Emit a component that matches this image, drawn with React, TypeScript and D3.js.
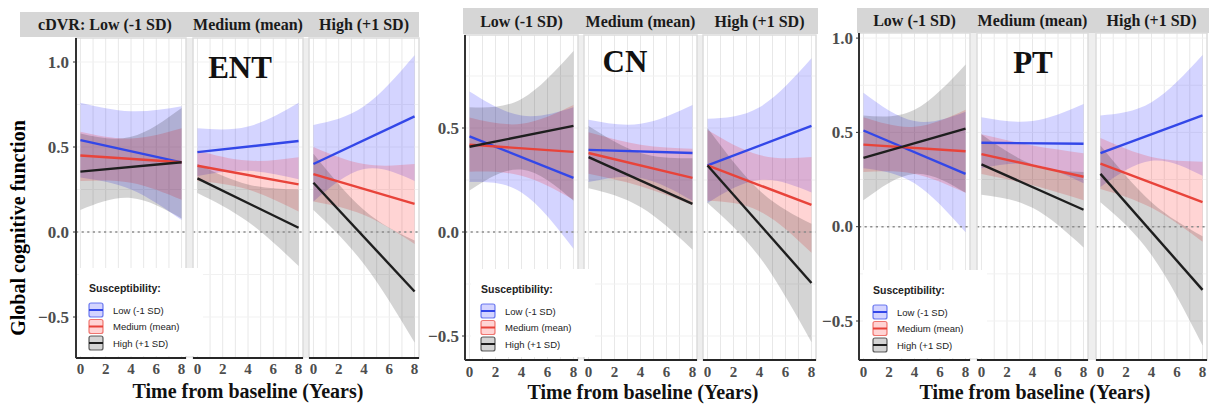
import React, { useEffect, useRef } from "react";
import * as d3 from "d3";

const panelNames = ["ENT", "CN", "PT"];
const cdvrLevels = ["Low (-1 SD)", "Medium (mean)", "High (+1 SD)"];
const suscLevels = ["Low (-1 SD)", "Medium (mean)", "High (+1 SD)"];
const lineYears = [0, 8];
const bandYears = [0, 4, 8];
const xTicks = [0, 2, 4, 6, 8];
const yTicksENT = [-0.5, 0, 0.5, 1.0];
const yTicksCN = [-0.5, 0, 0.5];
const yTicksPT = [-0.5, 0, 0.5, 1.0];

// fitted lines: [cDVR facet][susceptibility] -> [value at year 0, value at year 8]
const entLines = [
  [[0.54, 0.41], [0.45, 0.41], [0.355, 0.41]],
  [[0.47, 0.535], [0.39, 0.28], [0.315, 0.025]],
  [[0.4, 0.68], [0.34, 0.165], [0.29, -0.35]],
];
// confidence bands: [facet][susceptibility] -> values at years 0, 4, 8
const entLower = [
  [[0.32, 0.25, 0.07], [0.3, 0.29, 0.19], [0.13, 0.2, 0.08]],
  [[0.33, 0.36, 0.31], [0.3, 0.25, 0.12], [0.23, 0.06, -0.2]],
  [[0.18, 0.37, 0.3], [0.18, 0.1, -0.07], [0.13, -0.19, -0.65]],
];
const entUpper = [
  [[0.76, 0.71, 0.74], [0.59, 0.55, 0.61], [0.58, 0.56, 0.73]],
  [[0.61, 0.62, 0.76], [0.48, 0.42, 0.44], [0.4, 0.28, 0.25]],
  [[0.63, 0.74, 1.04], [0.5, 0.4, 0.4], [0.46, 0.13, -0.05]],
];

const cnLines = [
  [[0.46, 0.26], [0.42, 0.385], [0.41, 0.51]],
  [[0.395, 0.38], [0.38, 0.26], [0.36, 0.135]],
  [[0.32, 0.51], [0.32, 0.13], [0.32, -0.245]],
];
const cnLower = [
  [[0.24, 0.19, -0.08], [0.29, 0.27, 0.155], [0.2, 0.3, 0.15]],
  [[0.24, 0.26, 0.15], [0.28, 0.22, 0.13], [0.21, 0.12, -0.085]],
  [[0.14, 0.25, 0.19], [0.15, 0.1, -0.1], [0.14, -0.12, -0.53]],
];
const cnUpper = [
  [[0.675, 0.56, 0.6], [0.55, 0.52, 0.61], [0.6, 0.64, 0.87]],
  [[0.54, 0.52, 0.61], [0.48, 0.42, 0.4], [0.51, 0.38, 0.355]],
  [[0.545, 0.6, 0.835], [0.49, 0.37, 0.36], [0.5, 0.2, 0.04]],
];

const ptLines = [
  [[0.51, 0.28], [0.435, 0.4], [0.365, 0.52]],
  [[0.445, 0.44], [0.385, 0.265], [0.33, 0.09]],
  [[0.39, 0.59], [0.335, 0.13], [0.28, -0.335]],
];
const ptLower = [
  [[0.31, 0.23, -0.03], [0.29, 0.28, 0.18], [0.14, 0.28, 0.18]],
  [[0.31, 0.33, 0.23], [0.28, 0.22, 0.14], [0.17, 0.1, -0.11]],
  [[0.21, 0.35, 0.27], [0.2, 0.1, -0.08], [0.13, -0.15, -0.63]],
];
const ptUpper = [
  [[0.71, 0.56, 0.61], [0.58, 0.53, 0.62], [0.59, 0.62, 0.86]],
  [[0.58, 0.56, 0.65], [0.49, 0.43, 0.39], [0.49, 0.33, 0.29]],
  [[0.59, 0.66, 0.91], [0.47, 0.37, 0.345], [0.43, 0.13, -0.05]],
];

const lineColors = ["#3347e8", "#e8433a", "#1e1e1e"];
const bandColors = ["#0000ff", "#ff0000", "#000000"];

const serif = "'Liberation Serif', 'Times New Roman', serif";
const sans = "'Liberation Sans', Arial, sans-serif";

// page layout of the three sub-figures
const layouts = [
  {
    lines: entLines, lower: entLower, upper: entUpper, yTicks: yTicksENT,
    facetX: [76, 193, 309], facetW: 110, top: 38, bottom: 358,
    zeroY: 232, halfPx: 85,
    strip: [20, 419, 12, 25], firstStripCx: 105,
    tickLabelX: 69, xTickY: 374, xTitleX: 248, xTitleY: 398,
    titleX: 240, titleY: 78, legendX: 89, legendY: 288,
  },
  {
    lines: cnLines, lower: cnLower, upper: cnUpper, yTicks: yTicksCN,
    facetX: [465, 584, 703], facetW: 113, top: 35, bottom: 360,
    zeroY: 232, halfPx: 104,
    strip: [463, 818, 8, 26], firstStripCx: null,
    tickLabelX: 459, xTickY: 377, xTitleX: 643, xTitleY: 399,
    titleX: 625, titleY: 72, legendX: 481, legendY: 289,
  },
  {
    lines: ptLines, lower: ptLower, upper: ptUpper, yTicks: yTicksPT,
    facetX: [859, 977, 1096], facetW: 111, top: 33, bottom: 360,
    zeroY: 226.7, halfPx: 94.3,
    strip: [857, 1209, 8, 25], firstStripCx: null,
    tickLabelX: 853, xTickY: 377, xTitleX: 1035, xTitleY: 399,
    titleX: 1033, titleY: 73, legendX: 873, legendY: 290,
  },
];

const App = () => {
  const svgRef = useRef(null);

  useEffect(() => {
    const width = 1219;
    const height = 409;
    const svg = d3.select(svgRef.current);
    svg.selectAll("*").remove();
    svg.attr("width", width).attr("height", height).style("background", "white");

    const defs = svg.append("defs");

    // y axis title shared by the whole figure
    svg
      .append("text")
      .attr("transform", "translate(25,228) rotate(-90)")
      .attr("text-anchor", "middle")
      .attr("font-family", serif)
      .attr("font-weight", "bold")
      .attr("font-size", 20)
      .text("Global cognitive function");

    layouts.forEach((p, pi) => {
      const g = svg.append("g");
      const y = d3.scaleLinear().domain([0, 0.5]).range([p.zeroY, p.zeroY - p.halfPx]);
      const [sx0, sx1, sy, sh] = p.strip;

      // strip
      g.append("rect")
        .attr("x", sx0).attr("y", sy)
        .attr("width", sx1 - sx0).attr("height", sh)
        .attr("fill", "#d6d6d6");

      // gap colour between facets
      const left = p.facetX[0];
      const right = p.facetX[2] + p.facetW;
      g.append("rect")
        .attr("x", left).attr("y", p.top)
        .attr("width", right - left).attr("height", p.bottom - p.top)
        .attr("fill", "#eeeeee");

      cdvrLevels.forEach((lvl, fi) => {
        const fx = p.facetX[fi];
        const x = d3.scaleLinear().domain([-0.35, 8.35]).range([fx, fx + p.facetW]);
        const fg = g.append("g");

        // strip label
        const label = pi === 0 && fi === 0 ? `cDVR: ${lvl}` : lvl;
        const cx = pi === 0 && fi === 0 ? p.firstStripCx : fx + p.facetW / 2;
        g.append("text")
          .attr("x", cx).attr("y", sy + sh / 2 + 5.5)
          .attr("text-anchor", "middle")
          .attr("font-family", serif).attr("font-weight", "bold")
          .attr("font-size", 16).attr("fill", "#1a1a1a")
          .text(label);

        fg.append("rect")
          .attr("x", fx).attr("y", p.top)
          .attr("width", p.facetW).attr("height", p.bottom - p.top)
          .attr("fill", "white");

        // grid lines
        fg.selectAll(".vgrid")
          .data(d3.range(0, 9))
          .join("line")
          .attr("x1", (d) => x(d)).attr("x2", (d) => x(d))
          .attr("y1", p.top).attr("y2", p.bottom)
          .attr("stroke", "#e8e8e8").attr("stroke-width", 1);
        fg.selectAll(".hgrid")
          .data(d3.range(-0.75, 1.26, 0.25).filter((v) => y(v) > p.top && y(v) < p.bottom))
          .join("line")
          .attr("x1", fx).attr("x2", fx + p.facetW)
          .attr("y1", (d) => y(d)).attr("y2", (d) => y(d))
          .attr("stroke", "#f1f1f1").attr("stroke-width", 1);

        const clipId = `clip-${pi}-${fi}`;
        defs.append("clipPath").attr("id", clipId)
          .append("rect")
          .attr("x", fx).attr("y", p.top)
          .attr("width", p.facetW).attr("height", p.bottom - p.top);

        const plot = fg.append("g").attr("clip-path", `url(#${clipId})`);

        // confidence bands
        suscLevels.forEach((s, si) => {
          const pts = bandYears.map((t, i) => ({
            t,
            lo: p.lower[fi][si][i],
            hi: p.upper[fi][si][i],
          }));
          const area = d3.area()
            .x((d) => x(d.t))
            .y0((d) => y(d.lo))
            .y1((d) => y(d.hi))
            .curve(d3.curveNatural);
          plot.append("path")
            .attr("d", area(pts))
            .attr("fill", bandColors[si])
            .attr("fill-opacity", 0.17);
        });

        // zero reference
        plot.append("line")
          .attr("x1", fx).attr("x2", fx + p.facetW)
          .attr("y1", y(0)).attr("y2", y(0))
          .attr("stroke", "#8c8c8c").attr("stroke-width", 1.6)
          .attr("stroke-dasharray", "2.2,3.4");

        // fitted lines
        const lineGen = d3.line().x((d) => x(d.t)).y((d) => y(d.v));
        suscLevels.forEach((s, si) => {
          const pts = lineYears.map((t, i) => ({ t, v: p.lines[fi][si][i] }));
          plot.append("path")
            .attr("d", lineGen(pts))
            .attr("fill", "none")
            .attr("stroke", lineColors[si])
            .attr("stroke-width", 2.4);
        });

        // facet border
        fg.append("rect")
          .attr("x", fx).attr("y", p.top)
          .attr("width", p.facetW).attr("height", p.bottom - p.top)
          .attr("fill", "none").attr("stroke", "#dcdcdc").attr("stroke-width", 1.5);

        // bottom axis
        fg.append("line")
          .attr("x1", fx).attr("x2", fx + p.facetW)
          .attr("y1", p.bottom).attr("y2", p.bottom)
          .attr("stroke", "#262626").attr("stroke-width", 2);
        fg.selectAll(".xtick")
          .data(xTicks)
          .join("text")
          .attr("x", (d) => x(d)).attr("y", p.xTickY)
          .attr("text-anchor", "middle")
          .attr("font-family", serif).attr("font-weight", "bold")
          .attr("font-size", 15).attr("fill", "#4d4d4d")
          .text((d) => d);
      });

      // y axis
      g.append("line")
        .attr("x1", left).attr("x2", left)
        .attr("y1", p.top).attr("y2", p.bottom)
        .attr("stroke", "#333").attr("stroke-width", 2);
      p.yTicks.forEach((v) => {
        g.append("line")
          .attr("x1", left - 3).attr("x2", left)
          .attr("y1", y(v)).attr("y2", y(v))
          .attr("stroke", "#333").attr("stroke-width", 1);
        g.append("text")
          .attr("x", p.tickLabelX).attr("y", y(v) + 5.5)
          .attr("text-anchor", "end")
          .attr("font-family", serif).attr("font-weight", "bold")
          .attr("font-size", 17).attr("fill", "#4d4d4d")
          .text(d3.format(".1f")(v));
      });

      // panel title
      g.append("text")
        .attr("x", p.titleX).attr("y", p.titleY)
        .attr("text-anchor", "middle")
        .attr("font-family", serif).attr("font-weight", "bold")
        .attr("font-size", 31).attr("fill", "#111")
        .text(panelNames[pi]);

      // x axis title
      g.append("text")
        .attr("x", p.xTitleX).attr("y", p.xTitleY)
        .attr("text-anchor", "middle")
        .attr("font-family", serif).attr("font-weight", "bold")
        .attr("font-size", 20).attr("fill", "#111")
        .text("Time from baseline (Years)");

      // legend
      const lg = g.append("g");
      lg.append("rect")
        .attr("x", p.legendX - 10).attr("y", p.legendY - 20)
        .attr("width", 124).attr("height", 88)
        .attr("fill", "white");
      lg.append("text")
        .attr("x", p.legendX).attr("y", p.legendY + 4)
        .attr("font-family", sans).attr("font-weight", "bold")
        .attr("font-size", 10.5).attr("fill", "#222")
        .text("Susceptibility:");
      suscLevels.forEach((s, si) => {
        const cy = p.legendY + 22 + si * 16.5;
        lg.append("rect")
          .attr("x", p.legendX).attr("y", cy - 7)
          .attr("width", 14).attr("height", 14)
          .attr("rx", 2)
          .attr("fill", bandColors[si]).attr("fill-opacity", 0.17)
          .attr("stroke", lineColors[si]).attr("stroke-opacity", 0.7).attr("stroke-width", 1.2);
        lg.append("line")
          .attr("x1", p.legendX).attr("x2", p.legendX + 14)
          .attr("y1", cy).attr("y2", cy)
          .attr("stroke", lineColors[si]).attr("stroke-width", 2);
        lg.append("text")
          .attr("x", p.legendX + 24).attr("y", cy + 3.5)
          .attr("font-family", sans)
          .attr("font-size", 9.5).attr("fill", "#222")
          .text(s);
      });
    });
  }, []);

  return (
    <div style={{ position: "absolute", left: 0, top: 0 }}>
      <svg ref={svgRef} style={{ display: "block" }} />
    </div>
  );
};

export default App;
